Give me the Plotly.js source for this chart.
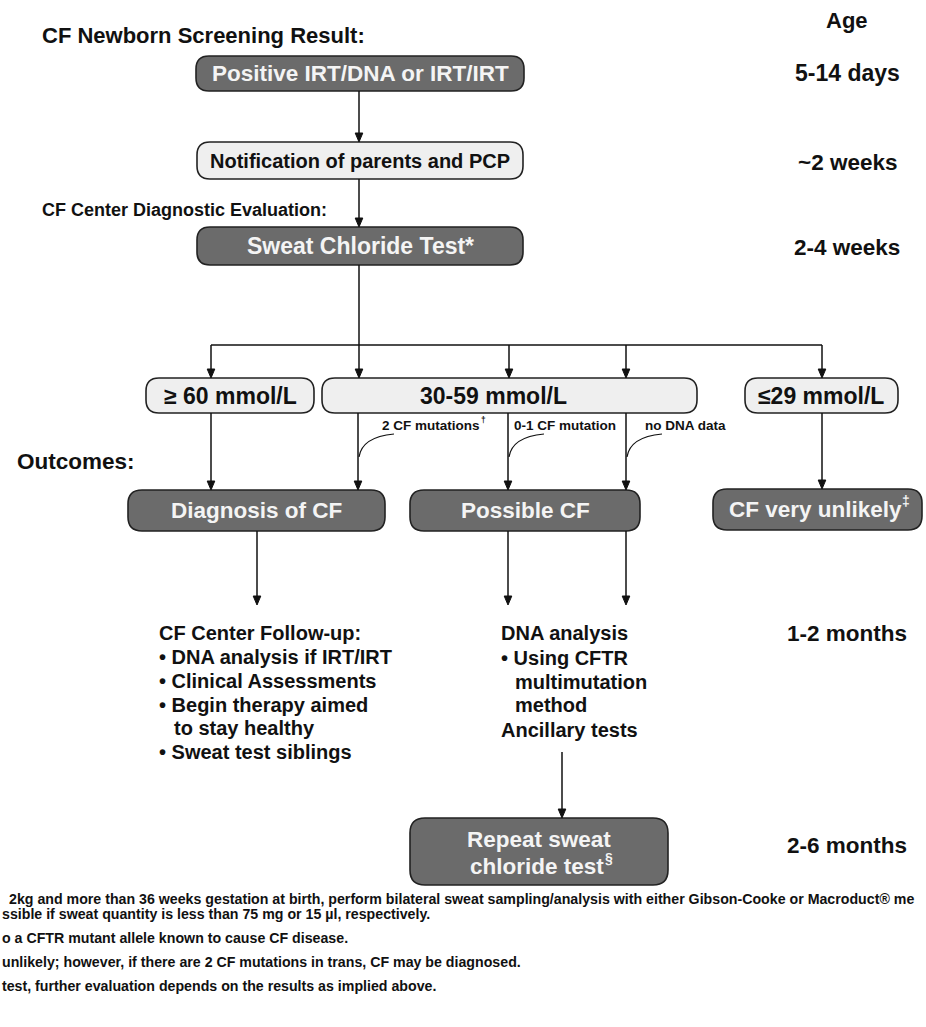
<!DOCTYPE html>
<html><head><meta charset="utf-8">
<script src="https://cdn.plot.ly/plotly-3.0.1.min.js"></script>
<style>html,body{margin:0;padding:0;background:#fff}</style>
</head><body><div id="chart" style="width:926px;height:1027px"></div>
<script>
// ---------- content (text of the flowchart) ----------
const sectionLabels = ["CF Newborn Screening Result:", "CF Center Diagnostic Evaluation:", "Outcomes:"];
const stepLabels = ["Positive IRT/DNA or IRT/IRT", "Notification of parents and PCP", "Sweat Chloride Test*"];
const resultLabels = ["≥ 60 mmol/L", "30-59 mmol/L", "≤29 mmol/L"];
const branchLabels = ["2 CF mutations", "0-1 CF mutation", "no DNA data"];
const branchMarks = ["†", "", ""];
const outcomeLabels = ["Diagnosis of CF", "Possible CF", "CF very unlikely"];
const outcomeMarks = ["", "", "‡"];
const followUpLines = ["CF Center Follow-up:", "• DNA analysis if IRT/IRT", "• Clinical Assessments", "• Begin therapy aimed", "to stay healthy", "• Sweat test siblings"];
const dnaLines = ["DNA analysis", "• Using CFTR", "multimutation", "method", "Ancillary tests"];
const repeatLines = ["Repeat sweat", "chloride test"];
const repeatMark = "§";
const ageHeader = "Age";
const ageLabels = ["5-14 days", "~2 weeks", "2-4 weeks", "1-2 months", "2-6 months"];
const footnotes = [
  "2kg and more than 36 weeks gestation at birth, perform bilateral sweat sampling/analysis with either Gibson-Cooke or Macroduct® me",
  "ssible if sweat quantity is less than 75 mg or 15 µl, respectively.",
  "o a CFTR mutant allele known to cause CF disease.",
  "unlikely; however, if there are 2 CF mutations in trans, CF may be diagnosed.",
  "test, further evaluation depends on the results as implied above."
];

// ---------- geometry (pixel-space layout) ----------
const G = {
  steps: [[196,56,524,91,'dark'],[197,142,523,179,'light'],[197,227,523,265,'dark']],
  results: [[146,378,314,413],[322,378,697,413],[745,378,898,413]],
  resultTextX: [230,493,821],
  outcomes: [[128,490,385,531],[410,490,640,531],[713,489,922,530]],
  repeat: [410,818,668,885], repeatY: [839,866],
  trunkX: 359, branchY: 345, branchX: [211,509,626,822],
  midX: [358,508,626], branchTextX: [380,512,643], branchTextY: 425,
  outDrops: [[211,413,490],[822,413,489]],
  followArrows: [[257,531,605],[508,531,605],[626,531,605]],
  repeatArrow: [562,752,818],
  followX: 157, followIndent: 172, followY: [633,657,681,705,728,752],
  dnaX: 499, dnaIndent: 513, dnaY: [633,658,682,705,730],
  ageX: 847, ageHeaderY: 20, ageY: [73,162,247,633,845],
  sectionPos: [[40,35],[40,210],[15,461]],
  footX: [7,0,0,0,0], footY: [899,914,938,962,986]
};

const DARK = '#6b6b6b', LIGHT = '#efefef', EDGE = '#222', INK = '#111', PALE = '#f4f4f4';
const SANS = 'Liberation Sans, Arial, Helvetica, sans-serif';
const F = (size, color) => ({family:SANS, size:size, color:color||INK, weight:'bold'});

const ctx = document.createElement('canvas').getContext('2d');
function textW(t, size){ ctx.font = `bold ${size}px "Liberation Sans", Arial, sans-serif`; return ctx.measureText(t).width; }

function rr(x0,y0,x1,y1,r){
  return `M${x0+r},${y0} L${x1-r},${y0} Q${x1},${y0} ${x1},${y0+r} L${x1},${y1-r} Q${x1},${y1} ${x1-r},${y1} L${x0+r},${y1} Q${x0},${y1} ${x0},${y1-r} L${x0},${y0+r} Q${x0},${y0} ${x0+r},${y0} Z`;
}
const shapes = [], ann = [];
function box(b, style, r){
  shapes.push({type:'path', xref:'x', yref:'y', path: rr(b[0],b[1],b[2],b[3], r||13),
    fillcolor: style==='dark'?DARK:LIGHT, line:{color:EDGE, width:1.6}, layer:'below'});
}
function txt(x,y,text,opts){
  ann.push(Object.assign({x:x,y:y,xref:'x',yref:'y',text:text,showarrow:false,
    xanchor:'center',yanchor:'middle',font:F(16)},opts||{}));
}
// text with a small raised footnote mark; align 'center' or 'left'
function markedText(x, y, base, mark, size, color, align){
  if(!mark){ txt(x,y,base,{xanchor:align,font:F(size,color)}); return; }
  const ms = size*0.62, w = textW(base,size), total = w + textW(mark,ms) + 1;
  const x0 = align==='center' ? x - total/2 : x;
  txt(x0, y, base, {xanchor:'left', font:F(size,color)});
  txt(x0 + w + 1, y - size*0.36, mark, {xanchor:'left', font:F(ms,color)});
}
function line(x0,y0,x1,y1){
  shapes.push({type:'line',xref:'x',yref:'y',x0:x0,y0:y0,x1:x1,y1:y1,line:{color:INK,width:1.5}});
}
function arrow(x,y0,y1){
  line(x,y0,x,y1-6);
  shapes.push({type:'path',xref:'x',yref:'y',path:`M${x-3.8},${y1-9} L${x+3.8},${y1-9} L${x},${y1} Z`,
    fillcolor:INK,line:{color:INK,width:1}});
}

// steps
G.steps.forEach((b,i)=>{
  box(b,b[4]);
  const f = b[4]==='dark' ? F(i===0?22.5:23,PALE) : F(20);
  txt((b[0]+b[2])/2,(b[1]+b[3])/2,stepLabels[i],{font:f});
});
arrow(G.trunkX, G.steps[0][3], G.steps[1][1]);
arrow(G.trunkX, G.steps[1][3], G.steps[2][1]);
arrow(G.trunkX, G.steps[2][3], G.results[1][1]);
line(G.branchX[0], G.branchY, G.branchX[3], G.branchY);
G.branchX.forEach(x=>arrow(x, G.branchY, G.results[0][1]));

// results
G.results.forEach((b,i)=>{
  box(b,'light');
  txt(G.resultTextX[i],(b[1]+b[3])/2,resultLabels[i],{font:F(23)});
});
// drops to outcomes
G.outDrops.forEach(d=>arrow(d[0],d[1],d[2]));
G.midX.forEach((x,i)=>{
  arrow(x, G.results[1][3], G.outcomes[i===0?0:1][1]);
  shapes.push({type:'path',xref:'x',yref:'y',path:`M${x+1},${457} Q${x+4},${437} ${x+36},${434}`,line:{color:INK,width:1.2}});
  markedText(G.branchTextX[i], G.branchTextY, branchLabels[i], branchMarks[i], 13.5, INK, 'left');
});

// outcomes
G.outcomes.forEach((b,i)=>{
  box(b,'dark',14);
  markedText((b[0]+b[2])/2,(b[1]+b[3])/2,outcomeLabels[i],outcomeMarks[i],22.5,PALE,'center');
});
G.followArrows.forEach(a=>arrow(a[0],a[1],a[2]));

// follow-up texts
followUpLines.forEach((t,i)=>{
  const indent = !t.startsWith('•') && i>0;
  txt(indent?G.followIndent:G.followX, G.followY[i], t, {xanchor:'left', font:F(20)});
});
dnaLines.forEach((t,i)=>{
  const indent = (i===2||i===3);
  txt(indent?G.dnaIndent:G.dnaX, G.dnaY[i], t, {xanchor:'left', font:F(20)});
});
arrow(G.repeatArrow[0], G.repeatArrow[1], G.repeatArrow[2]);
box(G.repeat,'dark',15);
const rcx = (G.repeat[0]+G.repeat[2])/2;
markedText(rcx, G.repeatY[0], repeatLines[0], '', 22.5, PALE, 'center');
markedText(rcx, G.repeatY[1], repeatLines[1], repeatMark, 22.5, PALE, 'center');

// section labels
sectionLabels.forEach((t,i)=>{
  txt(G.sectionPos[i][0], G.sectionPos[i][1], t, {xanchor:'left', font:F(i===0?22:(i===1?18:22.5))});
});
// ages
txt(G.ageX, G.ageHeaderY, ageHeader, {font:F(22)});
ageLabels.forEach((t,i)=>{
  txt(G.ageX, G.ageY[i], t, {font:F(i===0?23:22.5)});
});
// footnotes
footnotes.forEach((t,i)=>{
  txt(G.footX[i], G.footY[i], t, {xanchor:'left', font:F(14.2)});
});

const layout = {
  width:926, height:1027, margin:{l:0,r:0,t:0,b:0},
  paper_bgcolor:'#fff', plot_bgcolor:'#fff', showlegend:false,
  xaxis:{range:[0,926], visible:false, fixedrange:true},
  yaxis:{range:[1027,0], visible:false, fixedrange:true},
  shapes: shapes, annotations: ann
};
Plotly.newPlot('chart', [], layout, {staticPlot:true, displayModeBar:false});
</script></body></html>
